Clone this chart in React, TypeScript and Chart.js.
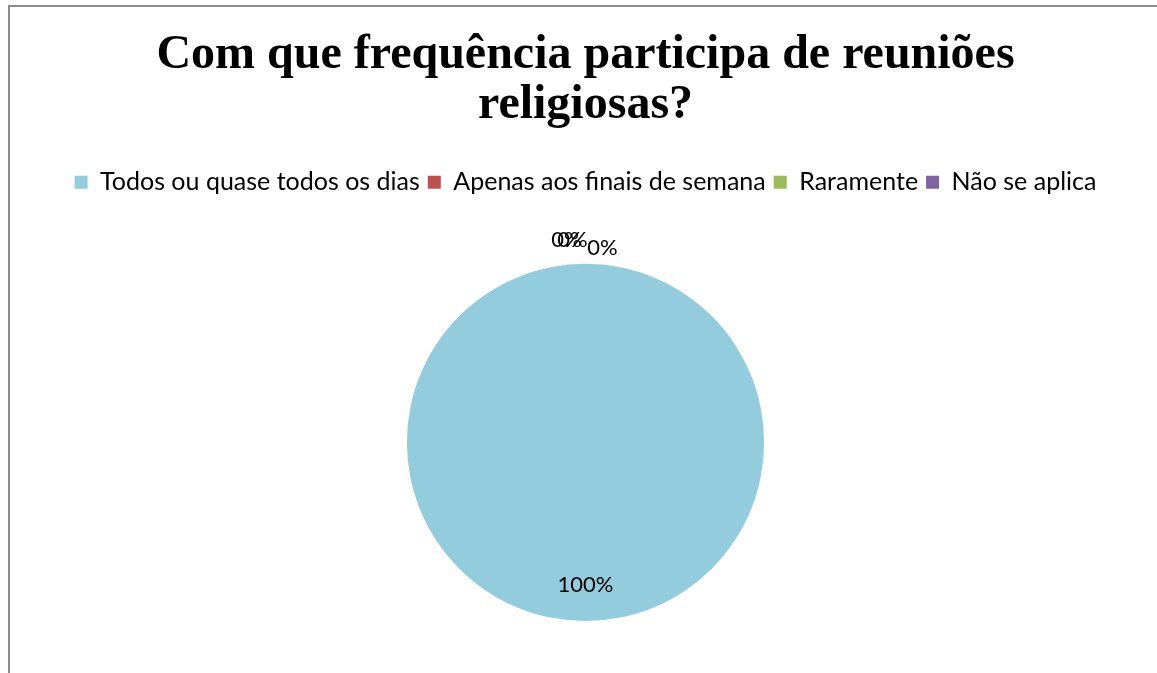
import React, { useEffect, useRef } from "react";
import { Chart, registerables } from "chart.js";

Chart.register(...registerables);

const titleLines = ["Com que frequência participa de reuniões", "religiosas?"];
const categories = [
  "Todos ou quase todos os dias",
  "Apenas aos finais de semana",
  "Raramente",
  "Não se aplica",
];
const shares = [100, 0, 0, 0];
const sliceColors = ["#93CDDD", "#C0504D", "#9BBB59", "#8064A2"];

// Nudges for labels of empty slices so they sit side by side above the pie
const zeroLabelNudge = [
  { dx: 0, dy: 0 },
  { dx: -19, dy: -24 },
  { dx: -13, dy: -24 },
  { dx: 17, dy: -16 },
];

const labelFont = "22px Lato, 'Noto Sans', sans-serif";

// Extra room between the legend and the pie
const legendGap = {
  id: "legendGap",
  beforeInit(chart: any) {
    const legend = chart.legend;
    if (!legend) return;
    const fit = legend.fit;
    legend.fit = function () {
      fit.call(this);
      this.height += 59;
    };
  },
};

const sliceLabels = {
  id: "sliceLabels",
  afterDatasetsDraw(chart: any) {
    const ctx = chart.ctx;
    const meta = chart.getDatasetMeta(0);
    const data = chart.data.datasets[0].data as number[];
    const total = data.reduce((a, b) => a + b, 0);
    ctx.save();
    ctx.font = labelFont;
    ctx.fillStyle = "#000000";
    ctx.textAlign = "center";
    ctx.textBaseline = "middle";
    meta.data.forEach((arc: any, i: number) => {
      const p = arc.getProps(["x", "y", "startAngle", "endAngle", "outerRadius"], true);
      const mid = (p.startAngle + p.endAngle) / 2;
      const pct = Math.round((data[i] / total) * 100) + "%";
      let lx: number;
      let ly: number;
      if (data[i] > 0) {
        const r = p.outerRadius * 0.8;
        lx = p.x + Math.cos(mid) * r;
        ly = p.y + Math.sin(mid) * r;
      } else {
        const n = zeroLabelNudge[i];
        lx = p.x + Math.cos(mid) * p.outerRadius + n.dx;
        ly = p.y + Math.sin(mid) * p.outerRadius + n.dy;
      }
      ctx.fillText(pct, lx, ly);
    });
    ctx.restore();
  },
};

export default function App() {
  const canvasRef = useRef<HTMLCanvasElement | null>(null);

  useEffect(() => {
    if (!canvasRef.current) return;
    const chart = new Chart(canvasRef.current, {
      type: "pie",
      data: {
        labels: categories,
        datasets: [
          {
            data: shares,
            backgroundColor: sliceColors,
            borderWidth: 0,
          },
        ],
      },
      options: {
        animation: false,
        responsive: false,
        maintainAspectRatio: false,
        layout: { padding: { top: 20, bottom: 52, left: 0, right: 6 } },
        plugins: {
          title: {
            display: true,
            text: titleLines,
            color: "#000000",
            font: {
              family: "'Liberation Serif', 'Times New Roman', serif",
              size: 48,
              weight: "bold",
              lineHeight: 1.05,
            },
            padding: { top: 10, bottom: 31 },
          },
          legend: {
            display: true,
            position: "top",
            labels: {
              color: "#000000",
              boxWidth: 13,
              boxHeight: 13,
              padding: 8,
              font: { family: "Lato, 'Noto Sans', sans-serif", size: 25 },
            },
          },
          tooltip: { enabled: false },
        },
      },
      plugins: [legendGap, sliceLabels],
    });
    return () => chart.destroy();
  }, []);

  return (
    <div
      style={{
        position: "fixed",
        left: 0,
        top: 0,
        width: 1157,
        height: 673,
        overflow: "hidden",
        background: "#ffffff",
      }}
    >
      <div
        style={{
          position: "absolute",
          left: 8,
          top: 5,
          width: 1170,
          height: 700,
          border: "2px solid #8c8c8c",
          boxSizing: "border-box",
        }}
      />
      <canvas
        ref={canvasRef}
        width={1157}
        height={673}
        style={{ position: "absolute", left: 10, top: 0, width: 1157, height: 673 }}
      />
    </div>
  );
}
